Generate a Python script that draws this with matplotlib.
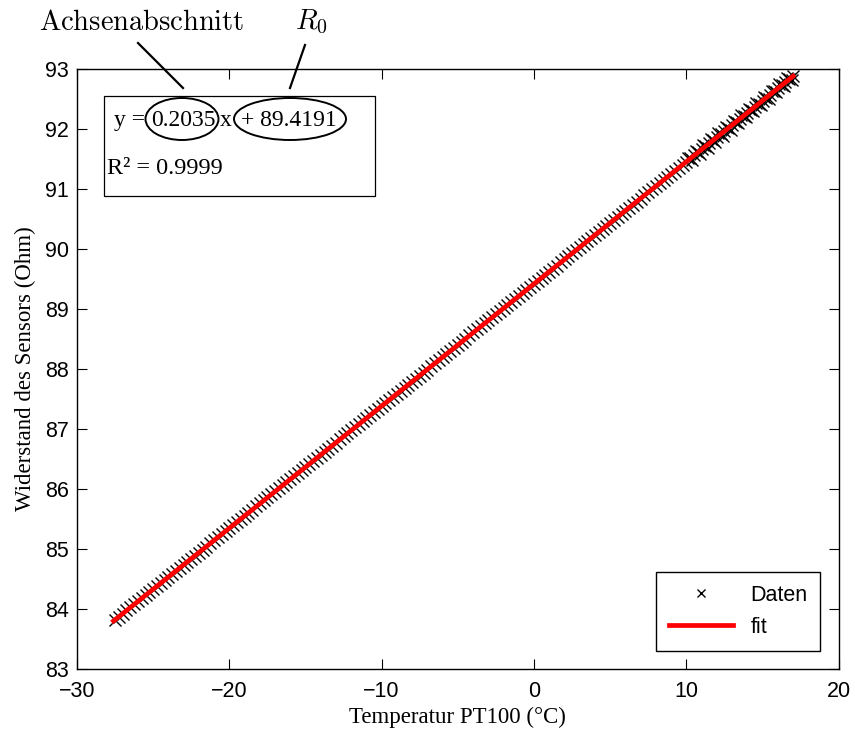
import numpy as np
import matplotlib
matplotlib.use('Agg')
import matplotlib.pyplot as plt
from matplotlib.patches import Ellipse, Rectangle

# measured points (temperature PT100 in degC, sensor resistance in Ohm)
temp_a = [-27.5, -27.0, -26.5, -26.0, -25.5, -25.0, -24.5, -24.0, -23.5, -23.0,
          -22.5, -22.0, -21.5, -21.0, -20.5, -20.0, -19.5, -19.0, -18.5, -18.0,
          -17.5, -17.0, -16.5, -16.0, -15.5, -15.0, -14.5, -14.0, -13.5, -13.0,
          -12.5, -12.0, -11.5, -11.0, -10.5, -10.0, -9.5, -9.0, -8.5, -8.0,
          -7.5, -7.0, -6.5, -6.0, -5.5, -5.0, -4.5, -4.0, -3.5, -3.0,
          -2.5, -2.0, -1.5, -1.0, -0.5, 0.0, 0.5, 1.0, 1.5, 2.0,
          2.5, 3.0, 3.5, 4.0, 4.5, 5.0, 5.5, 6.0, 6.5, 7.0,
          7.5, 8.0, 8.5, 9.0, 9.5, 10.0, 10.5, 11.0, 11.5, 12.0,
          12.5, 13.0, 13.5, 14.0, 14.5, 15.0, 15.5, 16.0, 16.5, 17.0]
res_a = [83.82, 83.92, 84.03, 84.13, 84.23, 84.33, 84.43, 84.54, 84.64, 84.74,
         84.84, 84.94, 85.04, 85.15, 85.25, 85.35, 85.45, 85.55, 85.65, 85.76,
         85.86, 85.96, 86.06, 86.16, 86.26, 86.37, 86.47, 86.57, 86.67, 86.77,
         86.88, 86.98, 87.08, 87.18, 87.28, 87.38, 87.49, 87.59, 87.69, 87.79,
         87.89, 87.99, 88.10, 88.20, 88.30, 88.40, 88.50, 88.61, 88.71, 88.81,
         88.91, 89.01, 89.11, 89.22, 89.32, 89.42, 89.52, 89.62, 89.72, 89.83,
         89.93, 90.03, 90.13, 90.23, 90.34, 90.44, 90.54, 90.64, 90.74, 90.84,
         90.95, 91.05, 91.15, 91.25, 91.35, 91.45, 91.56, 91.66, 91.76, 91.86,
         91.96, 92.06, 92.17, 92.27, 92.37, 92.47, 92.57, 92.68, 92.78, 92.88]

temp_b = [-27.25, -26.75, -26.25, -25.75, -25.25, -24.75, -24.25, -23.75, -23.25, -22.75,
          -22.25, -21.75, -21.25, -20.75, -20.25, -19.75, -19.25, -18.75, -18.25, -17.75,
          -17.25, -16.75, -16.25, -15.75, -15.25, -14.75, -14.25, -13.75, -13.25, -12.75,
          -12.25, -11.75, -11.25, -10.75, -10.25, -9.75, -9.25, -8.75, -8.25, -7.75,
          -7.25, -6.75, -6.25, -5.75, -5.25, -4.75, -4.25, -3.75, -3.25, -2.75,
          -2.25, -1.75, -1.25, -0.75, -0.25, 0.25, 0.75, 1.25, 1.75, 2.25,
          2.75, 3.25, 3.75, 4.25, 4.75, 5.25, 5.75, 6.25, 6.75, 7.25,
          7.75, 8.25, 8.75, 9.25, 9.75, 10.25, 10.75, 11.25, 11.75, 12.25,
          12.75, 13.25, 13.75, 14.25, 14.75, 15.25, 15.75, 16.25, 16.75]
res_b = [83.87, 83.98, 84.08, 84.18, 84.28, 84.38, 84.49, 84.59, 84.69, 84.79,
         84.89, 84.99, 85.10, 85.20, 85.30, 85.40, 85.50, 85.60, 85.71, 85.81,
         85.91, 86.01, 86.11, 86.21, 86.32, 86.42, 86.52, 86.62, 86.72, 86.83,
         86.93, 87.03, 87.13, 87.23, 87.33, 87.44, 87.54, 87.64, 87.74, 87.84,
         87.94, 88.05, 88.15, 88.25, 88.35, 88.45, 88.56, 88.66, 88.76, 88.86,
         88.96, 89.06, 89.17, 89.27, 89.37, 89.47, 89.57, 89.67, 89.78, 89.88,
         89.98, 90.08, 90.18, 90.29, 90.39, 90.49, 90.59, 90.69, 90.79, 90.90,
         91.00, 91.10, 91.20, 91.30, 91.40, 91.51, 91.61, 91.71, 91.81, 91.91,
         92.01, 92.12, 92.22, 92.32, 92.42, 92.52, 92.63, 92.73, 92.83]

# extra scattered points at the warm end (band gets thicker there)
temp_warm = [10.1, 10.6, 11.1, 11.6, 12.1, 12.6, 13.1, 13.6, 14.1, 14.6, 15.1, 15.6, 16.1, 16.6,
             10.4, 10.9, 11.4, 11.9, 12.4, 12.9, 13.4, 13.9, 14.4, 14.9, 15.4, 15.9, 16.4, 16.9]
res_warm = [91.52, 91.63, 91.73, 91.83, 91.93, 92.03, 92.14, 92.24, 92.34, 92.44, 92.54, 92.64, 92.75, 92.85,
            91.49, 91.59, 91.69, 91.79, 91.89, 91.99, 92.10, 92.20, 92.30, 92.40, 92.50, 92.61, 92.71, 92.81]

# linear fit  y = 0.2035 x + 89.4191
fit_temp = [-27.6, 17.0]
fit_res = [83.80, 92.88]

temp = np.array(temp_a + temp_b + temp_warm)
res = np.array(res_a + res_b + res_warm)

sans = ['Liberation Sans', 'DejaVu Sans']
serif = ['Liberation Serif', 'DejaVu Serif']
plt.rcParams['mathtext.fontset'] = 'cm'

fig = plt.figure(figsize=(8.55, 7.34), dpi=100)
ax = fig.add_axes([0.090, 0.0886, 0.891, 0.8174])

ax.plot(temp, res, 'x', color='black', markersize=8, markeredgewidth=1.0, label='Daten')
ax.plot(fit_temp, fit_res, '-', color='red', linewidth=3.4, label='fit')

ax.set_xlim(-30, 20)
ax.set_ylim(83, 93)
ax.set_xticks([-30, -20, -10, 0, 10, 20])
ax.set_yticks(range(83, 94))
ax.set_xticklabels(['\u221230', '\u221220', '\u221210', '0', '10', '20'])
ax.tick_params(direction='in', length=7, width=0.8, top=True, right=True,
               labelsize=15.5)
ax.tick_params(axis='x', pad=9)
ax.tick_params(axis='y', pad=6)
for lab in ax.get_xticklabels() + ax.get_yticklabels():
    lab.set_family(sans)
for sp in ax.spines.values():
    sp.set_linewidth(1.0)

ax.set_xlabel('Temperatur PT100 (\u00b0C)', family=serif, fontsize=16.5, labelpad=3)
ax.set_ylabel('Widerstand des Sensors (Ohm)', family=serif, fontsize=16.5, labelpad=6)

leg = ax.legend(loc='lower right', prop={'family': sans, 'size': 15.5},
                fancybox=False, edgecolor='black', framealpha=1,
                borderaxespad=0.85, handlelength=3.0, handletextpad=0.8,
                borderpad=0.6, labelspacing=0.5, markerscale=0.75)
leg.get_frame().set_linewidth(1.0)

# overlay in pixel coordinates for the annotation box
ov = fig.add_axes([0, 0, 1, 1])
ov.set_xlim(0, 855)
ov.set_ylim(734, 0)
ov.axis('off')
ov.patch.set_alpha(0)

ov.add_patch(Rectangle((104, 96), 271, 100, fill=True, facecolor='white',
                       edgecolor='black', linewidth=0.9))
base = 126
ov.text(114, base, 'y =', family=serif, fontsize=17, va='baseline', ha='left')
ov.text(183, base, '0.2035', family=serif, fontsize=17, va='baseline', ha='center')
ov.text(226, base, 'x', family=serif, fontsize=17, va='baseline', ha='center')
ov.text(289, base, '+ 89.4191', family=serif, fontsize=17, va='baseline', ha='center')
ov.text(107, 174, 'R\u00b2 = 0.9999', family=serif, fontsize=17.5,
        va='baseline', ha='left')
ov.add_patch(Ellipse((182, 119), 73, 42, fill=False, edgecolor='black', linewidth=1.4))
ov.add_patch(Ellipse((290, 119), 112, 42, fill=False, edgecolor='black', linewidth=1.4))
ov.plot([138, 183], [43, 88], color='black', linewidth=1.6)
ov.plot([305, 290], [45, 88], color='black', linewidth=1.6)
ov.text(142, 22, r'$\mathrm{Achsenabschnitt}$', fontsize=20.5, ha='center', va='center')
ov.text(311, 22, r'$R_0$', fontsize=20.5, ha='center', va='center')

fig.savefig('out.png', dpi=100)
